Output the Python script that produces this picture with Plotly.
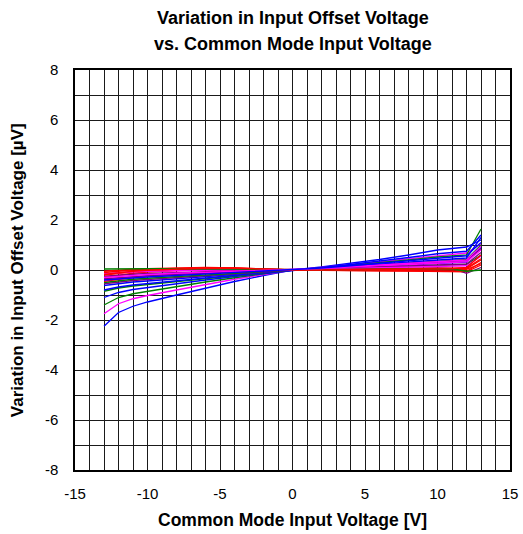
import plotly.graph_objects as go

# Common mode input voltage [V]
x_vcm = [-13, -12, -11, -10, -8, -6, -4, -2, 0, 2, 4, 6, 8, 10, 11, 12, 13]

# Variation in input offset voltage [uV], one list per sample
s01 = [-2.25, -1.70, -1.45, -1.28, -1.00, -0.72, -0.46, -0.22, 0, 0.12, 0.26, 0.42, 0.60, 0.80, 0.86, 0.92, 1.20]
s02 = [-1.75, -1.35, -1.15, -1.02, -0.80, -0.58, -0.37, -0.18, 0, 0.10, 0.20, 0.32, 0.45, 0.58, 0.63, 0.68, 1.05]
s03 = [-1.40, -1.10, -0.95, -0.85, -0.66, -0.48, -0.31, -0.15, 0, 0.08, 0.18, 0.28, 0.40, 0.52, 0.56, 0.60, 1.64]
s04 = [-1.10, -0.90, -0.78, -0.70, -0.55, -0.40, -0.26, -0.13, 0, 0.10, 0.22, 0.35, 0.50, 0.65, 0.70, 0.75, 1.40]
s05 = [-0.85, -0.72, -0.64, -0.58, -0.46, -0.34, -0.22, -0.11, 0, 0.06, 0.13, 0.20, 0.28, 0.36, 0.39, 0.42, 1.00]
s06 = [-0.80, -0.68, -0.60, -0.54, -0.43, -0.32, -0.21, -0.10, 0, 0.07, 0.15, 0.24, 0.33, 0.42, 0.45, 0.48, 1.30]
s07 = [-0.62, -0.54, -0.48, -0.44, -0.35, -0.26, -0.17, -0.08, 0, 0.05, 0.10, 0.16, 0.22, 0.28, 0.30, 0.32, 0.90]
s08 = [-0.55, -0.47, -0.42, -0.38, -0.30, -0.22, -0.14, -0.07, 0, 0.06, 0.12, 0.19, 0.26, 0.33, 0.36, 0.38, 0.85]
s09 = [-0.50, -0.42, -0.37, -0.33, -0.26, -0.19, -0.12, -0.06, 0, 0.03, 0.07, 0.11, 0.15, 0.19, 0.20, 0.22, 0.60]
s10 = [-0.45, -0.36, -0.30, -0.25, -0.16, -0.09, -0.04, -0.01, 0, 0.01, 0.02, 0.03, 0.04, 0.05, 0.05, 0.05, 0.40]
s11 = [-0.40, -0.33, -0.28, -0.24, -0.17, -0.11, -0.06, -0.02, 0, 0.05, 0.10, 0.16, 0.22, 0.28, 0.30, 0.33, 0.80]
s12 = [-0.35, -0.30, -0.26, -0.23, -0.17, -0.12, -0.07, -0.03, 0, 0.04, 0.08, 0.12, 0.16, 0.20, 0.22, 0.24, 0.70]
s13 = [-0.30, -0.20, -0.13, -0.08, -0.01, 0.03, 0.04, 0.02, 0, -0.01, -0.02, -0.03, -0.04, -0.05, -0.06, -0.07, 0.20]
s14 = [-0.25, -0.20, -0.17, -0.14, -0.10, -0.07, -0.04, -0.02, 0, 0.02, 0.04, 0.06, 0.08, 0.08, 0.06, -0.13, 0.10]
s15 = [-0.20, -0.12, -0.07, -0.03, 0.03, 0.06, 0.06, 0.03, 0, -0.01, -0.02, -0.02, -0.03, -0.03, -0.04, -0.05, 0.30]
s16 = [-0.15, -0.10, -0.07, -0.05, -0.02, 0.00, 0.01, 0.00, 0, 0.03, 0.06, 0.09, 0.12, 0.15, 0.16, 0.17, 0.55]
s17 = [-0.10, -0.04, 0.00, 0.03, 0.07, 0.09, 0.08, 0.04, 0, 0.00, 0.00, 0.00, 0.01, 0.01, 0.02, 0.03, 0.25]
s18 = [-0.05, 0.00, 0.03, 0.05, 0.08, 0.10, 0.08, 0.04, 0, 0.01, 0.02, 0.03, 0.05, 0.06, 0.07, 0.08, 0.45]
s19 = [0.04, 0.05, 0.05, 0.05, 0.05, 0.04, 0.03, 0.01, 0, 0.01, 0.02, 0.03, 0.03, 0.04, 0.04, -0.05, 0.00]
s20 = [-0.18, -0.10, -0.05, -0.01, 0.05, 0.08, 0.07, 0.03, 0, 0.00, 0.01, 0.02, 0.03, 0.04, 0.05, 0.10, 0.60]
s21 = [-0.30, -0.25, -0.21, -0.18, -0.13, -0.09, -0.05, -0.02, 0, 0.06, 0.13, 0.20, 0.28, 0.36, 0.38, 0.40, 0.95]
s22 = [-0.40, -0.35, -0.31, -0.28, -0.22, -0.16, -0.10, -0.05, 0, 0.08, 0.17, 0.27, 0.38, 0.50, 0.54, 0.57, 1.10]

series = [s01, s02, s03, s04, s05, s06, s07, s08, s09, s10, s11,
          s12, s13, s14, s15, s16, s17, s18, s19, s20, s21, s22]
colors = ["#0000FF", "#FF00FF", "#008000", "#0000FF", "#008000", "#0000FF",
          "#0000FF", "#800080", "#008000", "#FF0000", "#FF00FF", "#800080",
          "#FF0000", "#800080", "#FF0000", "#FF00FF", "#FF0000", "#FF0000",
          "#008000", "#FF0000", "#FF00FF", "#0000FF"]

x_ticks = [-15, -10, -5, 0, 5, 10, 15]
y_ticks = [-8, -6, -4, -2, 0, 2, 4, 6, 8]

fig = go.Figure()
for ys, c in zip(series, colors):
    fig.add_trace(go.Scatter(x=x_vcm, y=ys, mode="lines",
                             line=dict(color=c, width=1.3), showlegend=False,
                             hoverinfo="skip"))

font_family = "Liberation Sans, Arial, sans-serif"
grid_col = "#1a1a1a"

fig.update_layout(
    width=523, height=534,
    margin=dict(l=75, r=13, t=70, b=64),
    paper_bgcolor="white", plot_bgcolor="white",
    font=dict(family=font_family, size=15, color="black"),
    showlegend=False,
)

fig.update_xaxes(
    range=[-15, 15], tickvals=x_ticks, ticktext=[str(v) for v in x_ticks],
    showgrid=True, gridcolor=grid_col, gridwidth=1,
    minor=dict(dtick=1, showgrid=True, gridcolor=grid_col, gridwidth=1),
    zeroline=False, showline=True, linecolor="black", linewidth=1.5, mirror=True,
    ticks="", tickfont=dict(size=15), ticklabelstandoff=9, automargin=False,
)
fig.update_yaxes(
    range=[-8, 8], tickvals=y_ticks, ticktext=[str(v) for v in y_ticks],
    showgrid=True, gridcolor=grid_col, gridwidth=1,
    minor=dict(dtick=1, showgrid=True, gridcolor=grid_col, gridwidth=1),
    zeroline=False, showline=True, linecolor="black", linewidth=1.5, mirror=True,
    ticks="", tickfont=dict(size=15), ticklabelstandoff=12, automargin=False,
)

fig.add_annotation(text="<b>Variation in Input Offset Voltage</b>", xref="paper", yref="paper",
                   x=0.5, y=1.13, showarrow=False, font=dict(size=18), xanchor="center", yanchor="middle")
fig.add_annotation(text="<b>vs. Common Mode Input Voltage</b>", xref="paper", yref="paper",
                   x=0.5, y=1.065, showarrow=False, font=dict(size=18), xanchor="center", yanchor="middle")
fig.add_annotation(text="<b>Common Mode Input Voltage [V]</b>", xref="paper", yref="paper",
                   x=0.5, y=-0.125, showarrow=False, font=dict(size=17.5), xanchor="center", yanchor="middle")
fig.add_annotation(text="<b>Variation in Input Offset Voltage [µV]</b>", xref="paper", yref="paper",
                   x=-0.133, y=0.5, showarrow=False, font=dict(size=17), textangle=-90,
                   xanchor="center", yanchor="middle")

fig.write_html("out.html", config={"displayModeBar": False},
               post_script="document.body.style.margin='0';")
